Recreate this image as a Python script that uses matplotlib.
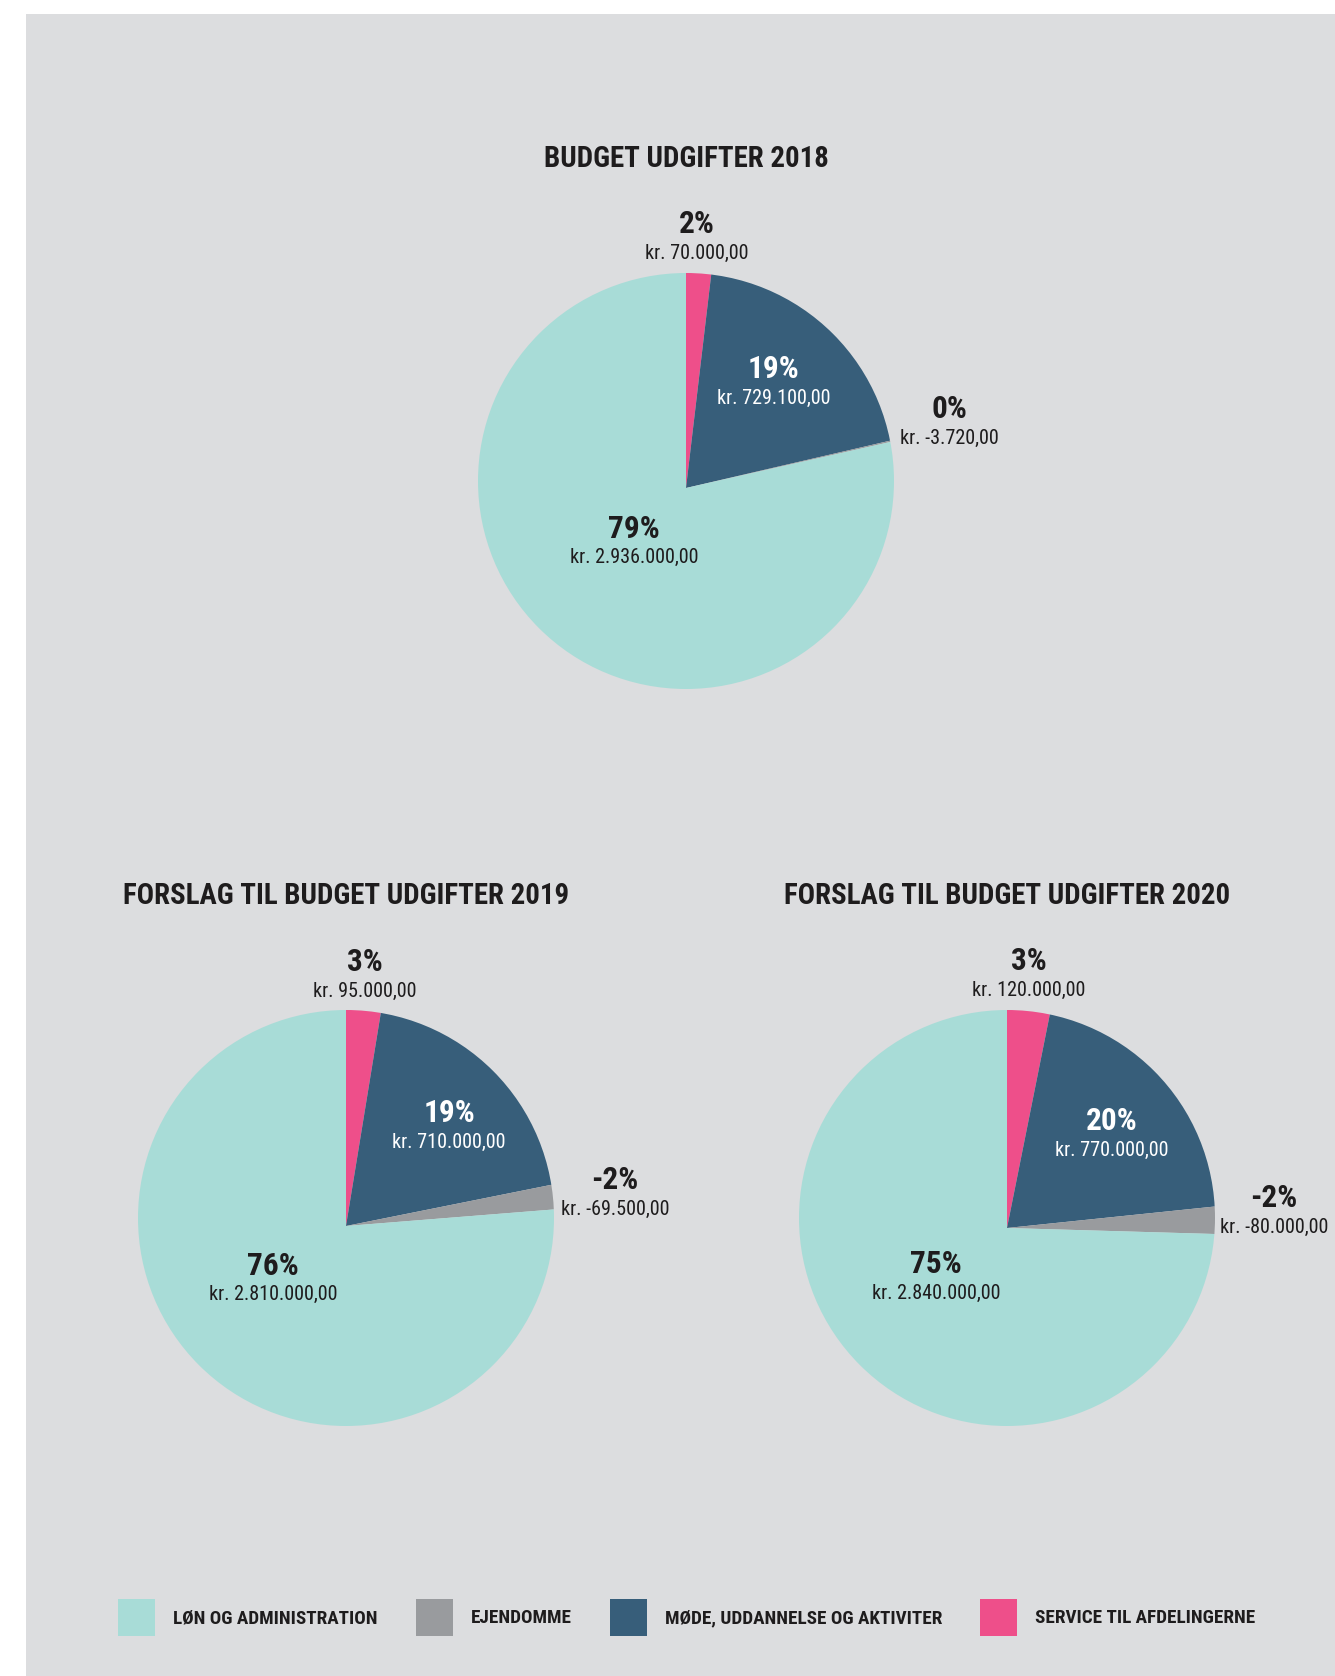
import os
import matplotlib
matplotlib.use("Agg")
import matplotlib.pyplot as plt
from matplotlib import font_manager
from matplotlib.font_manager import FontProperties
from matplotlib.patches import Rectangle, Circle
import numpy as np

# ---------------- data ----------------
categories = ["LØN OG ADMINISTRATION", "EJENDOMME",
              "MØDE, UDDANNELSE OG AKTIVITER", "SERVICE TIL AFDELINGERNE"]
titles = ["BUDGET UDGIFTER 2018",
          "FORSLAG TIL BUDGET UDGIFTER 2019",
          "FORSLAG TIL BUDGET UDGIFTER 2020"]
values_2018 = [2936000, -3720, 729100, 70000]
values_2019 = [2810000, -69500, 710000, 95000]
values_2020 = [2840000, -80000, 770000, 120000]
pct_2018 = [79, 0, 19, 2]
pct_2019 = [76, -2, 19, 3]
pct_2020 = [75, -2, 20, 3]

# ---------------- style ----------------
colors = ["#A8DCD7", "#999B9E", "#375E7A", "#EE4F8A"]
BG = "#DCDDDF"
TXT = "#1E1C1D"
W, H, DPI = 1335, 1676, 100
R = 208  # pie radius in px
draw_order = [3, 2, 1, 0]  # clockwise from 12 o'clock

# label layout: (distance in radii, clockwise angle nudge in degrees), per category
label_layout = [
    {0: (0.38, 2.3), 1: (1.30, 0.1), 2: (0.64, -0.5), 3: (1.177, -0.8)},
    {0: (0.453, 8.1), 1: (1.30, 2.5), 2: (0.666, 4.1), 3: (1.177, -0.2)},
    {0: (0.442, 4.7), 1: (1.284, 0.4), 2: (0.650, 3.3), 3: (1.183, -0.5)},
]
pie_centers = [(686, 481), (346, 1218), (1007, 1218)]
apex_drop = [7, 8, 10]  # px: slices meet slightly below the circle centre
title_pos = [(686, 159), (346, 896), (1007, 896)]


def find_font(patterns):
    entries = []
    for e in font_manager.fontManager.ttflist:
        b = os.path.basename(e.fname).lower()
        b = b.replace('-', '').replace('_', '').replace(' ', '')
        entries.append((b, e.fname))
    for p in patterns:
        for b, f in entries:
            if b.startswith(p + '.'):
                return f
    return None


bold_file = find_font(["notosansextracondensedbold", "notosanscondensedbold",
                       "robotocondensedbold", "liberationsansnarrowbold",
                       "dejavusanscondensedbold", "notosanssemicondensedbold"])
reg_file = find_font(["notosansextracondensed", "notosanscondensed",
                      "robotocondensedregular", "robotocondensed",
                      "liberationsansnarrowregular", "liberationsansnarrow",
                      "dejavusanscondensed", "notosanssemicondensed"])


def fp_bold(size):
    if bold_file:
        return FontProperties(fname=bold_file, size=size)
    return FontProperties(family="Roboto", weight="bold", size=size)


def fp_reg(size):
    if reg_file:
        return FontProperties(fname=reg_file, size=size)
    return FontProperties(family="Roboto", size=size)


TITLE_FS = 20.8
PCT_FS = 22.5
VAL_FS = 14.5
LEG_FS = 13.8


def kr(v):
    s = f"{abs(v):,.2f}".replace(',', 'X').replace('.', ',').replace('X', '.')
    return "kr. " + ("-" if v < 0 else "") + s


fig = plt.figure(figsize=(W / DPI, H / DPI), dpi=DPI, facecolor="white")
fig.patches.append(Rectangle((26 / W, 0), 1 - 26 / W, 1 - 14 / H,
                             transform=fig.transFigure, facecolor=BG,
                             edgecolor="none", zorder=-5))

all_values = [values_2018, values_2019, values_2020]
all_pcts = [pct_2018, pct_2019, pct_2020]

for k in range(3):
    vals = all_values[k]
    pcts = all_pcts[k]
    cx, cy = pie_centers[k]
    half = 1.6 * R
    ax = fig.add_axes([(cx - half) / W, (H - cy - half) / H, 2 * half / W, 2 * half / H])
    ax.set_zorder(2)
    ax.set_facecolor("none")
    sizes = [abs(vals[i]) for i in draw_order]
    cols = [colors[i] for i in draw_order]
    wedges, _ = ax.pie(sizes, colors=cols, startangle=90, counterclock=False,
                       radius=1.3, center=(0, -apex_drop[k] / R),
                       wedgeprops=dict(linewidth=0))
    ax.set_xlim(-1.6, 1.6)
    ax.set_ylim(-1.6, 1.6)
    ax.set_aspect("equal")
    ax.axis("off")
    clip = Circle((0, 0), 1.0, transform=ax.transData)
    for w in wedges:
        w.set_clip_on(True)
        w.set_clip_path(clip)
    for w, i in zip(wedges, draw_order):
        mid = (w.theta1 + w.theta2) / 2.0
        d, nudge = label_layout[k][i]
        ang = np.deg2rad(mid - nudge)
        x, y = d * np.cos(ang), d * np.sin(ang)
        col = "white" if i == 2 else TXT
        ax.annotate(f"{pcts[i]}%", (x, y), xytext=(0, 12), textcoords="offset pixels",
                    ha="center", va="center", color=col, fontproperties=fp_bold(PCT_FS),
                    zorder=5)
        ax.annotate(kr(vals[i]), (x, y), xytext=(0, -17), textcoords="offset pixels",
                    ha="center", va="center", color=col, fontproperties=fp_reg(VAL_FS),
                    zorder=5)
    tx, ty = title_pos[k]
    fig.text(tx / W, 1 - ty / H, titles[k], ha="center", va="center",
             color=TXT, fontproperties=fp_bold(TITLE_FS))

# ---------------- legend ----------------
fig.canvas.draw()
renderer = fig.canvas.get_renderer()
BOX, PAD, GAP = 37, 18, 38
LEG_CX, LEG_Y = 687, 1617
texts, widths = [], []
for c in categories:
    t = fig.text(0, 0, c, ha="left", va="center", color=TXT, fontproperties=fp_bold(LEG_FS))
    widths.append(t.get_window_extent(renderer).width)
    texts.append(t)
total = sum(BOX + PAD + w for w in widths) + GAP * (len(widths) - 1)
x = LEG_CX - total / 2
for i, c in enumerate(categories):
    fig.patches.append(Rectangle((x / W, (H - LEG_Y - BOX / 2) / H), BOX / W, BOX / H,
                                 transform=fig.transFigure, facecolor=colors[i],
                                 edgecolor="none", zorder=1))
    texts[i].set_position(((x + BOX + PAD) / W, 1 - (LEG_Y + 1) / H))
    x += BOX + PAD + widths[i] + GAP

fig.savefig("out.png", dpi=DPI, facecolor="white")
